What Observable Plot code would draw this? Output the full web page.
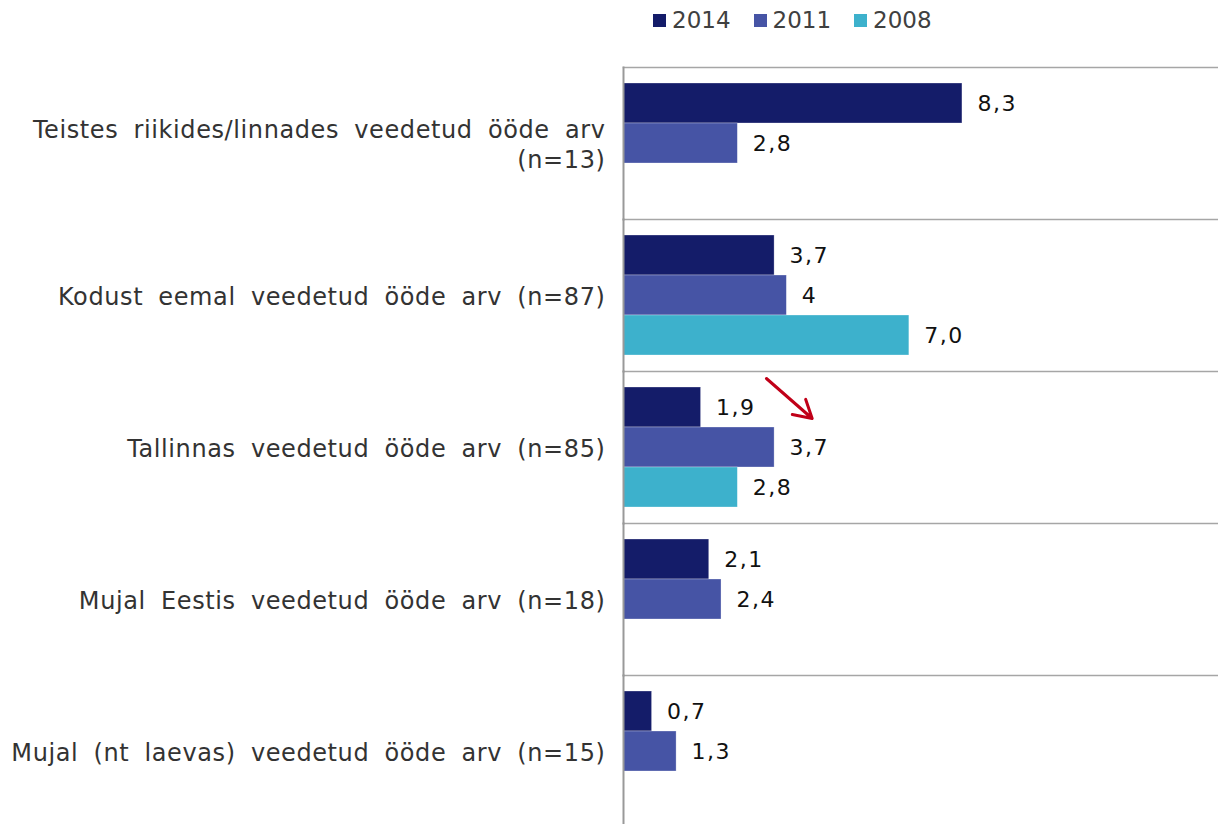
<!DOCTYPE html>
<html>
<head>
<meta charset="utf-8">
<script src="https://cdn.jsdelivr.net/npm/d3@7"></script>
<script src="https://cdn.jsdelivr.net/npm/@observablehq/plot@0.6"></script>
<style>
  html, body { margin: 0; padding: 0; background: #fff; overflow: hidden; }
  body { width: 1218px; font-family: "DejaVu Sans", Verdana, sans-serif; }
  #legend { height: 40px; display: flex; justify-content: flex-start; align-items: center; gap: 23px; padding-left: 653px; box-sizing: border-box; font-size: 23px; color: #404040; }
  #legend .item { display: flex; align-items: center; gap: 6px; }
  #legend .sw { width: 13px; height: 13px; display: inline-block; }
  svg { display: block; }
  g[aria-label="fy-axis tick label"] text { letter-spacing: 0.6px; word-spacing: 7px; }
  g[aria-label="text"] text { letter-spacing: 1.5px; }
</style>
</head>
<body>
<div id="legend"></div>
<div id="chart"></div>
<script>
const categories = [
  "Teistes riikides/linnades veedetud ööde arv\n(n=13)",
  "Kodust eemal veedetud ööde arv (n=87)",
  "Tallinnas veedetud ööde arv (n=85)",
  "Mujal Eestis veedetud ööde arv (n=18)",
  "Mujal (nt laevas) veedetud ööde arv (n=15)"
];
const series = ["2014", "2011", "2008"];
const colors = ["#141c69", "#4654a5", "#3db1cc"];
const values2014 = [8.3, 3.7, 1.9, 2.1, 0.7];
const values2011 = [2.8, 4.0, 3.7, 2.4, 1.3];
const values2008 = [null, 7.0, 2.8, null, null];
const labels2014 = ["8,3", "3,7", "1,9", "2,1", "0,7"];
const labels2011 = ["2,8", "4", "3,7", "2,4", "1,3"];
const labels2008 = [null, "7,0", "2,8", null, null];
// annotation arrow (Tallinnas 2014 -> 2011), in data units
const arrowCategory = categories[2];
const arrowX = [3.5, 4.62];

const rows = [];
const seriesVals = [values2014, values2011, values2008];
const seriesLabels = [labels2014, labels2011, labels2008];
series.forEach((s, si) => {
  categories.forEach((c, ci) => {
    const v = seriesVals[si][ci];
    if (v != null) rows.push({category: c, series: s, value: v, label: seriesLabels[si][ci]});
  });
});

// legend
const legend = document.getElementById("legend");
series.forEach((s, i) => {
  const it = document.createElement("div");
  it.className = "item";
  it.innerHTML = `<span class="sw" style="background:${colors[i]}"></span><span>${s}</span>`;
  legend.appendChild(it);
});

const chart = Plot.plot({
  width: 1218,
  height: 789,
  marginLeft: 623,
  marginRight: 0,
  marginTop: 25,
  marginBottom: 0,
  style: {fontFamily: "DejaVu Sans, Verdana, sans-serif", background: "#fff"},
  x: {domain: [0, 14.57], axis: null},
  y: {domain: series, axis: null, paddingInner: 0, paddingOuter: 0.366},
  fy: {domain: categories, padding: 0, label: null},
  color: {domain: series, range: colors},
  marks: [
    Plot.frame({anchor: "top", stroke: "#a6a6a6", strokeWidth: 1.5}),
    Plot.barX(rows, {fy: "category", y: "series", x: "value", fill: "series", inset: 0, stroke: "#ffffff", strokeWidth: 0.6, strokeOpacity: 0.5}),
    Plot.text(rows, {fy: "category", y: "series", x: "value", text: "label", dx: 15, textAnchor: "start", fontSize: 22, fill: "#111"}),
    Plot.frame({anchor: "left", stroke: "#999", strokeWidth: 2}),
    Plot.arrow([{category: arrowCategory, x1: arrowX[0], x2: arrowX[1], y1: "2014", y2: "2011"}], {
      fy: "category", x1: "x1", x2: "x2", y1: "y1", y2: "y2", dy: -29,
      stroke: "#c00018", strokeWidth: 3, headLength: 18, headAngle: 60
    }),
    Plot.axisFy({anchor: "left", tickSize: 0, tickPadding: 18, fontSize: 24, lineHeight: 1.24, fill: "#333", label: null})
  ]
});
document.getElementById("chart").appendChild(chart);
</script>
</body>
</html>
